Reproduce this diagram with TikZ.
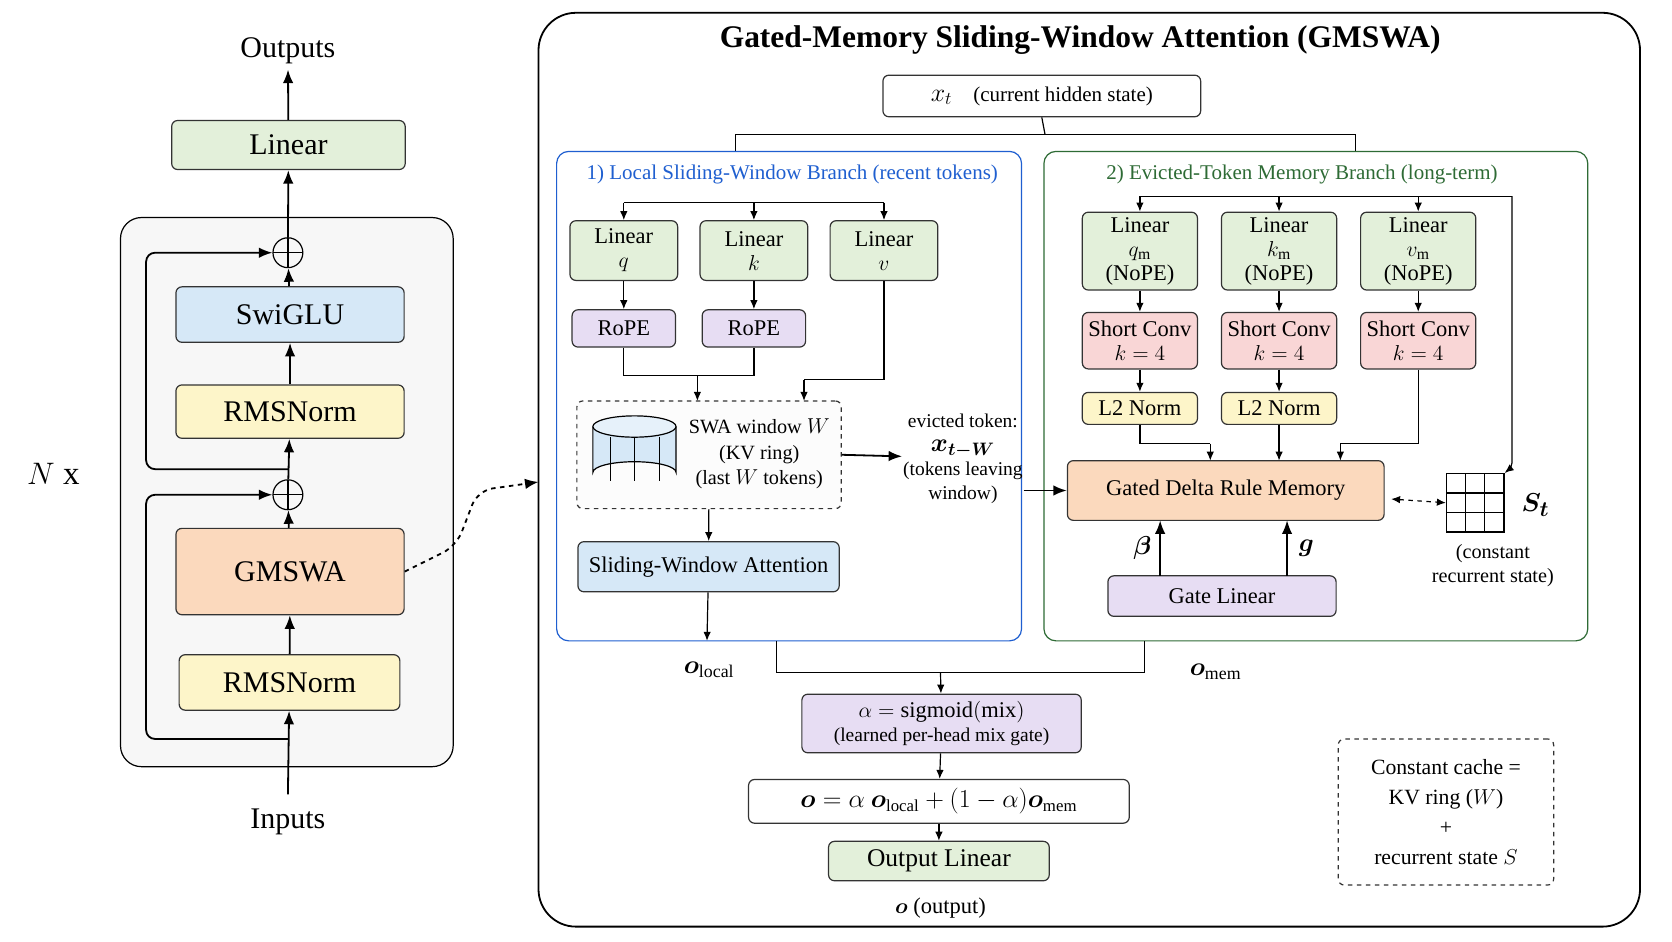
\documentclass[tikz,border=0pt]{standalone}
\usepackage{amsmath}
\usepackage{bm}
\usepackage{fontspec}
\setmainfont{Liberation Serif}
\usetikzlibrary{positioning,arrows.meta}
\def\u{0.25mm}
\definecolor{fgreen}{HTML}{E3F0DA}
\definecolor{fblue}{HTML}{D6E8F7}
\definecolor{fyellow}{HTML}{FDF5C9}
\definecolor{forange}{HTML}{FBD9BD}
\definecolor{fpurple}{HTML}{E7DDF3}
\definecolor{fred}{HTML}{F9D6D6}
\definecolor{lblue}{HTML}{1F5FD0}
\definecolor{lgreen}{HTML}{2E6B35}

\begin{document}
\begin{tikzpicture}[x=0.25mm, y=-0.25mm, >={Latex[length=6pt,width=5pt]},
    block/.style ={draw=black!80, thick, rounded corners=4pt, align=center, inner sep=1pt, font=\fontsize{15}{16}\selectfont},
    bigblock/.style ={block, font=\fontsize{20}{22}\selectfont},
    addop/.style ={circle, draw, thick, minimum size=28*\u, inner sep=0pt,
      path picture={\draw[thick] (path picture bounding box.north) -- (path picture bounding box.south)
        (path picture bounding box.west) -- (path picture bounding box.east);}},
    note/.style ={align=center, font=\fontsize{12.5}{15}\selectfont},
    link/.style ={thick, ->},
    biglink/.style ={very thick, ->, >={Latex[length=9pt,width=7pt]}},
    wire/.style ={thick}]
   \useasboundingbox (0,0) rectangle (1568,883);

   % left: decoder block
   \draw[thick, rounded corners=14pt, fill=black!3] (113,204) rectangle (425,719);
   \node[font=\fontsize{20}{22}\selectfont] (outputs) at (270,48) {Outputs};
   \node[font=\fontsize{20}{22}\selectfont] (inputs) at (270,771) {Inputs};
   \node[font=\fontsize{22}{24}\selectfont] (nx) at (50,444) {$N$ x};
   \node[bigblock, fill=fgreen, minimum width=219*\u, minimum height=46*\u] (lin)  at (270.5,136) {Linear};
   \node[addop] (add1) at (270,237) {};
   \node[bigblock, fill=fblue, minimum width=214*\u, minimum height=52*\u] (swiglu) at (272,295) {SwiGLU};
   \node[bigblock, fill=fyellow, minimum width=214*\u, minimum height=50*\u] (norm1) at (272,386) {RMSNorm};
   \node[addop] (add2) at (270,464) {};
   \node[bigblock, fill=forange, minimum width=214*\u, minimum height=81*\u] (gmswa) at (272,536) {GMSWA};
   \node[bigblock, fill=fyellow, minimum width=207*\u, minimum height=52*\u] (norm2) at (271.5,640) {RMSNorm};
   \coordinate (inbot) at (270,745);
   \coordinate (res1) at (270,693);
   \coordinate (res2) at (270,440);

   \draw[biglink] (inbot) -- (norm2);
   \draw[biglink] (norm2) -- (gmswa);
   \draw[biglink] (gmswa) -- (add2);
   \draw[biglink] (add2) -- (norm1);
   \draw[biglink] (norm1) -- (swiglu);
   \draw[biglink] (swiglu) -- (add1);
   \draw[biglink] (add1) -- (lin);
   \draw[biglink] (lin) -- (outputs);
   \draw[biglink, rounded corners=6pt] (res1) -| (137,464) -- (add2);
   \draw[biglink, rounded corners=6pt] (res2) -| (137,237) -- (add1);

   % right: GMSWA panel
   \draw[very thick, rounded corners=25pt, fill=white] (505,12) rectangle (1538,869);
   \node[font=\bfseries\fontsize{21}{23}\selectfont] (title) at (1013,38) {Gated-Memory Sliding-Window Attention (GMSWA)};
   \draw[biglink, dashed, rounded corners=10pt] (gmswa.east) -- (428,512) -- (448,460) -- (505,452);
   \node[block, font=\fontsize{14}{16}\selectfont, minimum width=298*\u, minimum height=39*\u] (xt) at (977,90) {{\fontsize{18}{20}\selectfont$x_t$}\quad(current hidden state)};
   \draw[wire] (xt.south) -- (980,126);
   \draw[wire] (690,142) |- (1271,126) -- (1271,142);

   % local branch
   \draw[thick, draw=lblue, rounded corners=8pt] (522,142) rectangle (958,601);
   \node[note, text=lblue, font=\fontsize{14}{16}\selectfont] (ltitle) at (743,164) {1)\ Local Sliding-Window Branch (recent tokens)};
   \node[block, fill=fgreen, minimum width=101*\u, minimum height=56*\u] (linq) at (585,235) {Linear\\ $q$};
   \node[block, fill=fgreen, minimum width=101*\u, minimum height=56*\u] (link) at (707,235) {Linear\\ $k$};
   \node[block, fill=fgreen, minimum width=101*\u, minimum height=56*\u] (linv) at (829,235) {Linear\\ $v$};
   \draw[wire] (585,190) -- (829,190);
   \draw[link] (585,190) -- (linq);
   \draw[link] (707,190) -- (link);
   \draw[link] (829,190) -- (linv);
   \node[block, fill=fpurple, minimum width=97*\u, minimum height=35*\u] (ropeq) at (585,308) {RoPE};
   \node[block, fill=fpurple, minimum width=97*\u, minimum height=35*\u] (ropek) at (707,308) {RoPE};
   \draw[link] (linq) -- (ropeq);
   \draw[link] (link) -- (ropek);
   \node[block, dashed, fill=black!1, minimum width=248*\u, minimum height=101*\u] (swa) at (665,426.5) {};
   \draw[wire] (ropeq) |- (707,352) -- (ropek);
   \draw[link] (654,352) -- (654,376);
   \draw[wire] (linv) |- (754,356);
   \draw[link] (754,356) -- (754,376);
   % KV ring drawing
   \filldraw[thick, fill=fblue] (556,400) -- (556,443) arc (180:360:39 and 10) -- (634,400);
   \filldraw[thick, fill=fblue!60] (595,400) ellipse (39 and 10);
   \foreach \xx in {572,595,618} \draw[thin] (\xx,410) -- (\xx,451);
   \node[note, font=\fontsize{13.5}{17}\selectfont] (swatext) at (712,426) {SWA window $W$\\ (KV ring)\\ (last $W$ tokens)};
   \node[block, fill=fblue, minimum width=245*\u, minimum height=47*\u] (swattn) at (664.5,531.5) {Sliding-Window Attention};
   \draw[link] (swa) -- (swattn);
   \coordinate (lbot) at (663,601);
   \draw[link] (swattn) -- (lbot);
   \node[font=\fontsize{17}{19}\selectfont] (olocal) at (665,628) {$\bm{o}_{\text{local}}$};

   % evicted token
   \node[note, font=\fontsize{13}{16}\selectfont] (evict) at (903,430) {evicted token:\\ {\fontsize{17}{19}\selectfont$\bm{x_{t-W}}$}\\ (tokens leaving\\ window)};
   \draw[biglink] (swa.east) -- (846,428);

   % memory branch
   \draw[thick, draw=lgreen, rounded corners=8pt] (979,142) rectangle (1489,601);
   \node[note, text=lgreen, font=\fontsize{14}{16}\selectfont] (mtitle) at (1221,164) {2)\ Evicted-Token Memory Branch (long-term)};
   \foreach \nm/\xx/\vv in {qm/1069/q, km/1199.5/k, vm/1330/v}{
     \node[block, fill=fgreen, minimum width=108*\u, minimum height=73*\u] (lin\nm) at (\xx,235.5) {Linear\\ $\vv_{\mathrm{m}}$\\ (NoPE)};
     \node[block, fill=fred, minimum width=108*\u, minimum height=53*\u] (conv\nm) at (\xx,319.5) {Short Conv\\ $k=4$};
     \draw[link] (\xx,184) -- (lin\nm);
     \draw[link] (lin\nm) -- (conv\nm);
   }
   \draw[wire] (1069,184) -- (1418,184);
   \node[block, fill=fyellow, minimum width=108*\u, minimum height=30*\u] (l2q) at (1069,383) {L2 Norm};
   \node[block, fill=fyellow, minimum width=108*\u, minimum height=30*\u] (l2k) at (1199.5,383) {L2 Norm};
   \draw[link] (convqm) -- (l2q);
   \draw[link] (convkm) -- (l2k);
   \node[block, fill=forange, minimum width=297*\u, minimum height=56*\u] (gdr) at (1149.5,460) {Gated Delta Rule Memory};
   \draw[wire] (l2q) |- (1135,416);
   \draw[link] (1135,416) -- (1135,432);
   \draw[link] (l2k) -- (1199.5,432);
   \draw[wire] (convvm) |- (1257,416);
   \draw[link] (1257,416) -- (1257,432);
   \draw[biglink] (960,460) -- (gdr.west);
   % recurrent state grid
   \node[draw, thick, minimum width=54*\u, minimum height=55*\u, inner sep=0pt] (grid) at (1383.5,471.5) {};
   \foreach \gx in {1374.5,1392.5} \draw[thick] (\gx,444) -- (\gx,499);
   \foreach \gy in {462.3,480.7} \draw[thick] (1356.5,\gy) -- (1410.5,\gy);
   \draw[link, rounded corners=3pt] (1418,184) -- (1418,438) -- (grid.north east);
   \draw[<->, dashed, thick] (gdr.east) ++(6,8) -- (grid.west);
   \node[font=\fontsize{19}{21}\selectfont] (st) at (1440,474) {$\bm{S_t}$};
   \node[note, font=\fontsize{13.5}{16}\selectfont] (sttext) at (1400,530) {(constant\\ recurrent state)};
   \node[block, fill=fpurple, minimum width=214*\u, minimum height=38*\u] (gate) at (1146,559) {Gate Linear};
   \draw[biglink] (1088,540) -- (1088,488) node[midway, left=2pt, font=\fontsize{18}{20}\selectfont] (beta) {$\bm{\beta}$};
   \draw[biglink] (1207,540) -- (1207,488) node[midway, right=4pt, font=\fontsize{18}{20}\selectfont] (gg) {$\bm{g}$};
   \node[font=\fontsize{17}{19}\selectfont] (omem) at (1140,630) {$\bm{o}_{\text{mem}}$};

   % mixing
   \node[block, fill=fpurple, minimum width=262*\u, minimum height=55*\u] (mix) at (883,678.5) {$\alpha=\mathrm{sigmoid}(\mathrm{mix})$\\ {\fontsize{13}{15}\selectfont(learned per-head mix gate)}};
   \draw[wire] (728,601) |- (1073,631) -- (1073,601);
   \draw[link] (882,631) -- (mix);
   \node[block, fill=white, font=\fontsize{16}{18}\selectfont, minimum width=357*\u, minimum height=41*\u] (formula) at (880.5,751.5) {$\bm{o}=\alpha\ \bm{o}_{\text{local}}+(1-\alpha)\bm{o}_{\text{mem}}$};
   \draw[link] (mix) -- (formula);
   \node[block, fill=fgreen, font=\fontsize{17}{19}\selectfont, minimum width=207*\u, minimum height=37*\u] (outlin) at (880.5,807.5) {Output Linear};
   \draw[link] (formula) -- (outlin);
   \node[font=\fontsize{15}{17}\selectfont] (out) at (882,852) {$\bm{o}$\ (output)};
   \node[block, dashed, fill=white, font=\fontsize{14.5}{20}\selectfont, minimum width=202*\u, minimum height=137*\u] (cache) at (1356,761.5) {Constant cache =\\ KV ring ($W$)\\ +\\ recurrent state $S$};
 \end{tikzpicture}
\end{document}
